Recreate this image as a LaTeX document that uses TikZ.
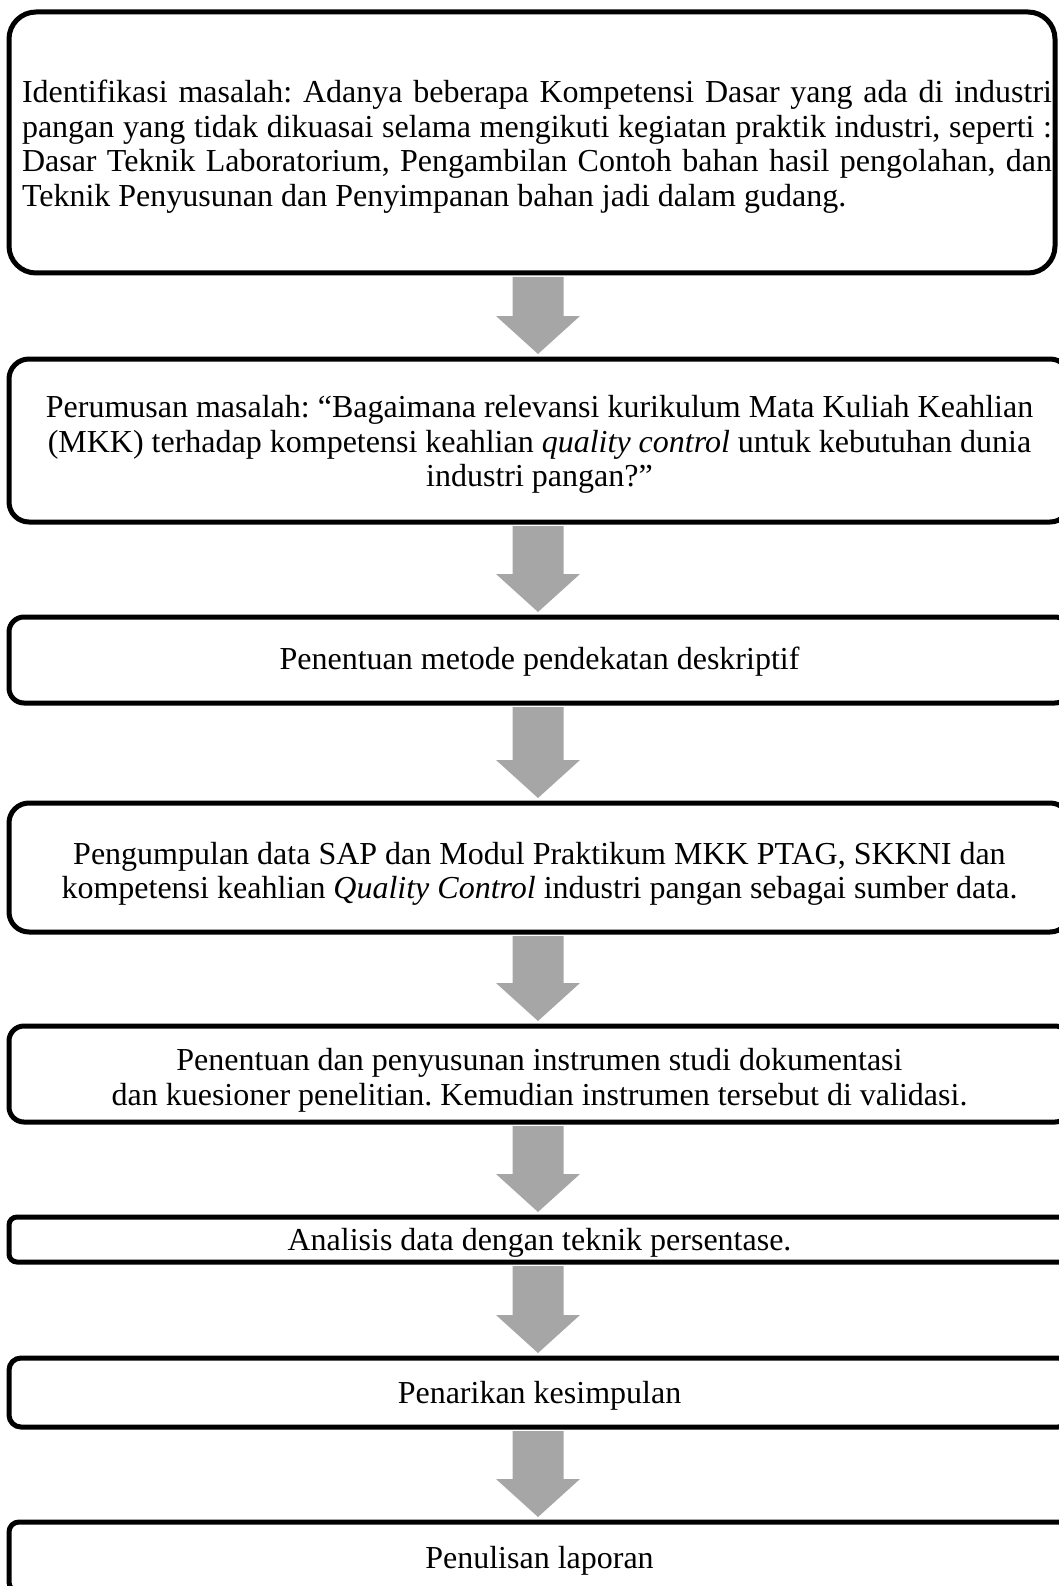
\documentclass[tikz,border=0pt]{standalone}
\usepackage{fontspec}
\setmainfont{Liberation Serif}
\usetikzlibrary{calc}

\definecolor{arrowgray}{RGB}{166,166,166}
\frenchspacing

\tikzset{
    flowbox/.style={draw, line width=5pt, rounded corners=#1, inner sep=0pt,
                    font=\fontsize{32}{34.5}\selectfont},
    flowbox/.default=15pt
}

% centred lines with normal word spacing, lowered a little
\newcommand{\boxlines}[2][5pt]{%
    \raisebox{-#1}[\height][\depth]{\begin{tabular}{@{}c@{}}#2\end{tabular}}}

% block arrow from the bottom of one box to the top of the next
\newcommand{\flowarrow}[2]{%
    \fill[arrowgray] let \p1 = (#1.south), \p2 = (#2.north) in
        (538pt-25.5pt, \y1-1.5pt) -- (538pt+25.5pt, \y1-1.5pt)
        -- (538pt+25.5pt, \y2+40.5pt) -- (538pt+42pt, \y2+40.5pt)
        -- (538pt, \y2+2.5pt)
        -- (538pt-42pt, \y2+40.5pt) -- (538pt-25.5pt, \y2+40.5pt) -- cycle;}

\begin{document}
\begin{tikzpicture}[x=1pt, y=1pt]
    \useasboundingbox (0,0) rectangle (1059,-1586);
    \clip (0,0) rectangle (1059,-1586);

    \node[flowbox=27pt, minimum width=1046pt, minimum height=261pt] (ident) at (532,-142.5)
        {\raisebox{-5pt}[\height][\depth]{\begin{tabular}{@{\hspace{10pt}}l@{}}
         \makebox[1030pt][s]{Identifikasi masalah: Adanya beberapa Kompetensi Dasar yang ada di industri}\\
         \makebox[1030pt][s]{pangan yang tidak dikuasai selama mengikuti kegiatan praktik industri, seperti :}\\
         \makebox[1030pt][s]{Dasar Teknik Laboratorium, Pengambilan Contoh bahan hasil pengolahan, dan}\\
         Teknik Penyusunan dan Penyimpanan bahan jadi dalam gudang.
         \end{tabular}}};

    \node[flowbox=20pt, minimum width=1061pt, minimum height=163pt] (rumus) at (539.5,-440.5)
        {\boxlines{Perumusan masalah: “Bagaimana relevansi kurikulum Mata Kuliah Keahlian\\
         (MKK) terhadap kompetensi keahlian \textit{quality control} untuk kebutuhan dunia\\
         industri pangan?”}};

    \node[flowbox=15pt, minimum width=1061pt, minimum height=86pt] (metode) at (539.5,-660)
        {\boxlines[3pt]{Penentuan metode pendekatan deskriptif}};

    \node[flowbox=20pt, minimum width=1061pt, minimum height=129pt] (kumpul) at (539.5,-867.5)
        {\boxlines[7pt]{Pengumpulan data SAP dan Modul Praktikum MKK PTAG, SKKNI dan\\
         kompetensi keahlian \textit{Quality Control} industri pangan sebagai sumber data.}};

    \node[flowbox=15pt, minimum width=1061pt, minimum height=96pt] (instrumen) at (539.5,-1074)
        {\boxlines[7pt]{Penentuan dan penyusunan instrumen studi dokumentasi\\
         dan kuesioner penelitian. Kemudian instrumen tersebut di validasi.}};

    \node[flowbox=8pt, minimum width=1061pt, minimum height=45pt] (analisis) at (539.5,-1239.5)
        {\boxlines[4pt]{Analisis data dengan teknik persentase.}};

    \node[flowbox=12pt, minimum width=1061pt, minimum height=69pt] (simpul) at (539.5,-1392.5)
        {\boxlines[4pt]{Penarikan kesimpulan}};

    \node[flowbox=10pt, minimum width=1061pt, minimum height=70pt] (lapor) at (539.5,-1557)
        {\boxlines{Penulisan laporan}};

    \flowarrow{ident}{rumus}
    \flowarrow{rumus}{metode}
    \flowarrow{metode}{kumpul}
    \flowarrow{kumpul}{instrumen}
    \flowarrow{instrumen}{analisis}
    \flowarrow{analisis}{simpul}
    \flowarrow{simpul}{lapor}
\end{tikzpicture}
\end{document}
